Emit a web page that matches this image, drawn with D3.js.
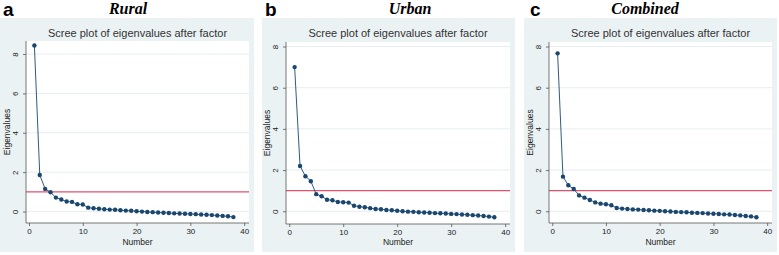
<!DOCTYPE html>
<html>
<head>
<meta charset="utf-8">
<script src="https://cdn.jsdelivr.net/npm/d3@7"></script>
<style>
  html, body { margin: 0; padding: 0; background: #fff; }
  svg { display: block; }
</style>
</head>
<body>
<svg id="chart" width="779" height="255"></svg>
<script>
const numbers = [1,2,3,4,5,6,7,8,9,10,11,12,13,14,15,16,17,18,19,20,21,22,23,24,25,26,27,28,29,30,31,32,33,34,35,36,37,38];
const rural = [8.43,1.86,1.15,0.98,0.71,0.61,0.51,0.49,0.37,0.36,0.20,0.17,0.14,0.12,0.10,0.09,0.07,0.05,0.04,0.02,0.00,-0.02,-0.03,-0.05,-0.06,-0.07,-0.09,-0.10,-0.11,-0.12,-0.13,-0.15,-0.16,-0.18,-0.20,-0.22,-0.24,-0.28];
const urban = [7.00,2.20,1.70,1.46,0.83,0.73,0.56,0.53,0.45,0.44,0.42,0.27,0.22,0.19,0.15,0.11,0.10,0.06,0.05,0.02,0.00,-0.02,-0.03,-0.05,-0.06,-0.07,-0.09,-0.10,-0.11,-0.13,-0.14,-0.16,-0.17,-0.19,-0.21,-0.23,-0.26,-0.29];
const combined = [7.67,1.68,1.26,1.08,0.77,0.66,0.55,0.43,0.37,0.34,0.29,0.16,0.13,0.11,0.09,0.08,0.06,0.05,0.03,0.02,0.00,-0.01,-0.03,-0.04,-0.05,-0.07,-0.08,-0.09,-0.11,-0.12,-0.13,-0.15,-0.16,-0.18,-0.20,-0.23,-0.25,-0.29];
const yTicks = [0,2,4,6,8];
const xTicks = [0,10,20,30,40];
const threshold = 1;
const panelLetters = ["a","b","c"];
const panelNames = ["Rural","Urban","Combined"];
const plotTitle = "Scree plot of eigenvalues after factor";
const xTitle = "Number";
const yTitle = "Eigenvalues";

const svg = d3.select("#chart");

const layouts = [
  {bg:[0,18,254,252], plot:[26,41,249,223], xDom:[-0.56,40.9], yDom:[-0.58,8.66], letterX:3, nameX:128},
  {bg:[262,18,515,252], plot:[286,42,510,224], xDom:[-0.6,40.9], yDom:[-0.62,8.22], letterX:265, nameX:410},
  {bg:[524,18,777,252], plot:[549,42,772,223], xDom:[-0.6,40.9], yDom:[-0.57,8.22], letterX:530, nameX:645}
];
const series = [rural, urban, combined];

const navy = "#1a476f";
const font = "'Liberation Sans', Arial, sans-serif";

layouts.forEach((L, i) => {
  const g = svg.append("g");
  const data = numbers.map((n, k) => ({x: n, y: series[i][k]}));
  g.append("rect").attr("x", L.bg[0]).attr("y", L.bg[1])
    .attr("width", L.bg[2]-L.bg[0]).attr("height", L.bg[3]-L.bg[1])
    .attr("fill", "#eaf2f3");
  const [x0,y0,x1,y1] = L.plot;
  g.append("rect").attr("x", x0).attr("y", y0).attr("width", x1-x0).attr("height", y1-y0).attr("fill", "#fff");

  const x = d3.scaleLinear().domain(L.xDom).range([x0, x1]);
  const y = d3.scaleLinear().domain(L.yDom).range([y1, y0]);

  g.append("g").selectAll("line").data(yTicks).join("line")
    .attr("x1", x0).attr("x2", x1)
    .attr("y1", d => y(d)).attr("y2", d => y(d))
    .attr("stroke", "#e6eef0").attr("stroke-width", 1);

  g.append("line").attr("x1", x0).attr("x2", x1)
    .attr("y1", y(threshold)).attr("y2", y(threshold))
    .attr("stroke", "#e0506c").attr("stroke-width", 1.2);

  g.append("path").datum(data)
    .attr("d", d3.line().x(d => x(d.x)).y(d => y(d.y)))
    .attr("fill", "none").attr("stroke", navy).attr("stroke-width", 0.9);
  g.append("g").selectAll("circle").data(data).join("circle")
    .attr("cx", d => x(d.x)).attr("cy", d => y(d.y)).attr("r", 2.2)
    .attr("fill", navy);

  const xAxis = g.append("g").attr("transform", `translate(0,${y1})`)
    .call(d3.axisBottom(x).tickValues(xTicks).tickSize(3).tickPadding(2).tickSizeOuter(0));
  const yAxis = g.append("g").attr("transform", `translate(${x0},0)`)
    .call(d3.axisLeft(y).tickValues(yTicks).tickSize(3).tickPadding(3).tickSizeOuter(0));
  [xAxis, yAxis].forEach(a => {
    a.select(".domain").attr("stroke", "#555").attr("stroke-width", 0.8);
    a.selectAll(".tick line").attr("stroke", "#555").attr("stroke-width", 0.8);
    a.selectAll("text").attr("font-family", font).attr("font-size", 8).attr("fill", "#222");
  });
  xAxis.select(".domain").attr("d", `M${x0},0H${x1}`);
  yAxis.select(".domain").attr("d", `M0,${y0}V${y1}`);
  yAxis.selectAll(".tick text")
    .attr("x", null).attr("dy", null)
    .attr("text-anchor", "middle")
    .attr("transform", "translate(-8,0) rotate(-90)");

  g.append("text").attr("x", (x0+x1)/2).attr("y", 37)
    .attr("text-anchor", "middle").attr("font-family", font).attr("font-size", 11)
    .attr("fill", "#333").text(plotTitle);
  g.append("text").attr("x", (x0+x1)/2).attr("y", 245)
    .attr("text-anchor", "middle").attr("font-family", font).attr("font-size", 8.5)
    .attr("fill", "#222").text(xTitle);
  g.append("text").attr("transform", `translate(${x0-16},${(y0+y1)/2}) rotate(-90)`)
    .attr("text-anchor", "middle").attr("font-family", font).attr("font-size", 8.5)
    .attr("fill", "#222").text(yTitle);

  g.append("text").attr("x", L.letterX).attr("y", 16)
    .attr("font-family", font).attr("font-weight", "bold").attr("font-size", 19)
    .attr("fill", "#000").text(panelLetters[i]);
  g.append("text").attr("x", L.nameX).attr("y", 14)
    .attr("text-anchor", "middle").attr("font-family", "'Liberation Serif', 'Times New Roman', serif")
    .attr("font-weight", "bold").attr("font-style", "italic").attr("font-size", 16)
    .attr("fill", "#000").text(panelNames[i]);
});
</script>
</body>
</html>
